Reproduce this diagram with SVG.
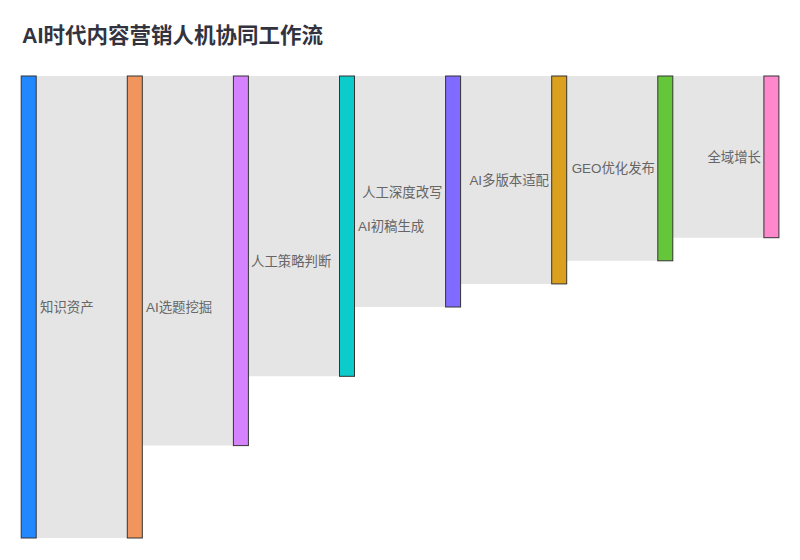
<svg xmlns="http://www.w3.org/2000/svg" width="800" height="560" viewBox="0 0 800 560">
<style>
.title{font-family:"Liberation Sans","Noto Sans CJK SC",sans-serif;font-size:21.5px;font-weight:bold;fill:#333340}
.lbl{font-family:"Liberation Sans","Noto Sans CJK SC",sans-serif;font-size:13.4px;fill:#666}
.node rect{stroke:#333;stroke-width:1}
.link{fill:none;stroke:#e5e5e5}
</style>
<rect width="800" height="560" fill="#fff"/>
<text class="title" x="22" y="43">AI时代内容营销人机协同工作流</text>
<g id="links">
<path class="link" d="M36.2,307H127.3" stroke-width="462"/>
<path class="link" d="M142.3,260.8H233.4" stroke-width="369.6"/>
<path class="link" d="M248.4,226.15H339.5" stroke-width="300.3"/>
<path class="link" d="M354.5,191.5H445.6" stroke-width="231"/>
<path class="link" d="M460.6,179.95H551.7" stroke-width="207.9"/>
<path class="link" d="M566.7,168.4H657.8" stroke-width="184.8"/>
<path class="link" d="M672.8,156.85H763.9" stroke-width="161.7"/>
</g>
<g id="n1" class="node"><rect x="21.2" y="76" width="15" height="462" fill="#2288ff"/><text class="lbl" x="40" y="312">知识资产</text></g>
<g id="n2" class="node"><rect x="127.3" y="76" width="15" height="462" fill="#f0955e"/><text class="lbl" x="146" y="312">AI选题挖掘</text></g>
<g id="n3" class="node"><rect x="233.4" y="76" width="15" height="369.6" fill="#d582ff"/><text class="lbl" x="251" y="265.8">人工策略判断</text></g>
<g id="n4" class="node"><rect x="339.5" y="76" width="15" height="300.3" fill="#0ccbcb"/><text class="lbl" x="358" y="231.2">AI初稿生成</text></g>
<g id="n5" class="node"><rect x="445.6" y="76" width="15" height="231" fill="#7f6bff"/><text class="lbl" x="442.5" y="196.5" text-anchor="end">人工深度改写</text></g>
<g id="n6" class="node"><rect x="551.7" y="76" width="15" height="207.9" fill="#daa01e"/><text class="lbl" x="549" y="185" text-anchor="end">AI多版本适配</text></g>
<g id="n7" class="node"><rect x="657.8" y="76" width="15" height="184.8" fill="#66c63a"/><text class="lbl" x="655" y="173.4" text-anchor="end">GEO优化发布</text></g>
<g id="n8" class="node"><rect x="763.9" y="76" width="15" height="161.7" fill="#ff88cc"/><text class="lbl" x="761" y="161.9" text-anchor="end">全域增长</text></g>
</svg>
